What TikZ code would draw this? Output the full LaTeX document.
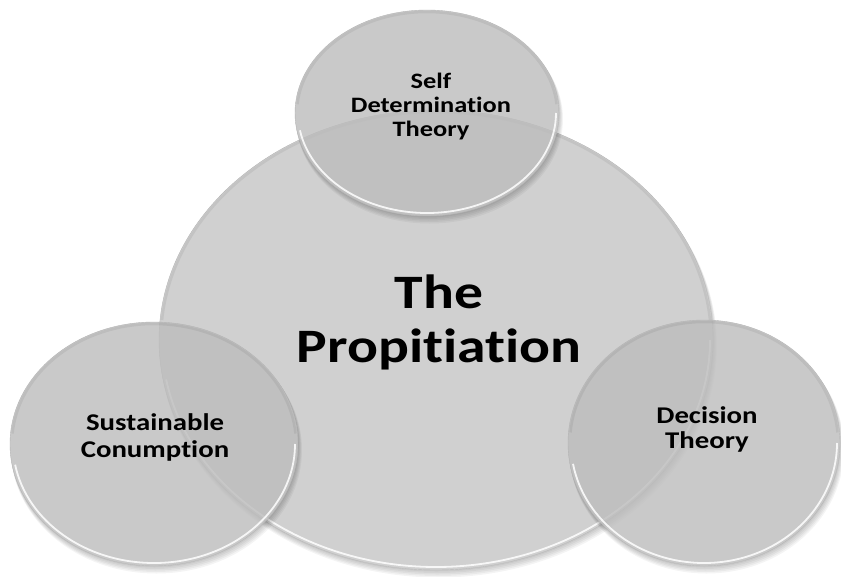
\documentclass[tikz,border=0pt]{standalone}
\usepackage{graphicx}
\usepackage{fontspec}
\setmainfont{Carlito}[Ligatures={NoCommon,NoRare,NoContextual}]
\usetikzlibrary{shapes.geometric}
\definecolor{maingray}{RGB}{208,208,208}
\definecolor{smallgray}{RGB}{188,188,188}
\definecolor{edgegray}{RGB}{180,180,180}
\tikzset{
  disc/.style={ellipse, inner sep=0pt, outer sep=0pt, draw=edgegray, line width=0.4pt},
  maindisc/.style={disc, fill=maingray},
  smalldisc/.style={disc, fill=smallgray, fill opacity=0.8},
  bigtxt/.style={font=\bfseries\fontsize{48}{54}\selectfont, anchor=base, inner sep=0pt},
  smalltxt/.style={font=\bfseries\fontsize{22}{24}\selectfont, anchor=base, inner sep=0pt},
  midtxt/.style={font=\bfseries\fontsize{24}{26}\selectfont, anchor=base, inner sep=0pt},
  rimlight/.style={white, line width=1.8pt, opacity=0.85},
  rimdark/.style={black, line width=2.5pt, opacity=0.06},
  shadowlayer/.style={black, opacity=0.045},
}
\newcommand\glassdisc[6]{%
  \begin{scope}[even odd rule]
    \clip (-10,-10) rectangle (860,590) (#2,#3) ellipse [x radius=#4, y radius=#5];
    \foreach \k in {1,...,5}{\fill[shadowlayer] ({#2+0.5*\k},{#3+1.2*\k}) ellipse [x radius={#4+0.3*\k}, y radius={#5+0.3*\k}];}
  \end{scope}
  \node[#6, minimum width={2*#4pt}, minimum height={2*#5pt}] (#1) at (#2,#3) {};
  \draw[rimdark] ({#2+(#4-2)*cos(185)},{#3+(#5-2)*sin(185)}) arc[start angle=185, end angle=355, x radius={#4-2}, y radius={#5-2}];
  \draw[rimlight] ({#2+(#4-3)*cos(0)},{#3+(#5-3)*sin(0)}) arc[start angle=0, end angle=170, x radius={#4-3}, y radius={#5-3}];
}
\begin{document}
\begin{tikzpicture}[x=1pt,y=-1pt]
  \useasboundingbox (0,0) rectangle (841,576);
  \fill[white] (0,0) rectangle (841,576);
  \glassdisc{main}{436}{340}{277}{230}{maindisc}
  \glassdisc{sdt}{427}{113}{132}{103}{smalldisc}
  \glassdisc{sc}{154}{444}{144}{122}{smalldisc}
  \glassdisc{dt}{704}{443}{136}{123}{smalldisc}
  \node[bigtxt] (tmain) at (439,308) {\scalebox{1.2}[1]{\begin{tabular}[t]{@{}c@{}}The\\Propitiation\end{tabular}}};
  \node[smalltxt] (tsdt) at (431,88) {\scalebox{1.2}[1]{\begin{tabular}[t]{@{}c@{}}Self\\Determination\\Theory\end{tabular}}};
  \node[midtxt, font=\bfseries\fontsize{24}{27}\selectfont] (tsc) at (155,430) {\scalebox{1.2}[1]{\begin{tabular}[t]{@{}c@{}}Sustainable\\Conumption\end{tabular}}};
  \node[midtxt, font=\bfseries\fontsize{24}{25}\selectfont] (tdt) at (707,423) {\scalebox{1.2}[1]{\begin{tabular}[t]{@{}c@{}}Decision\\Theory\end{tabular}}};
\end{tikzpicture}
\end{document}
